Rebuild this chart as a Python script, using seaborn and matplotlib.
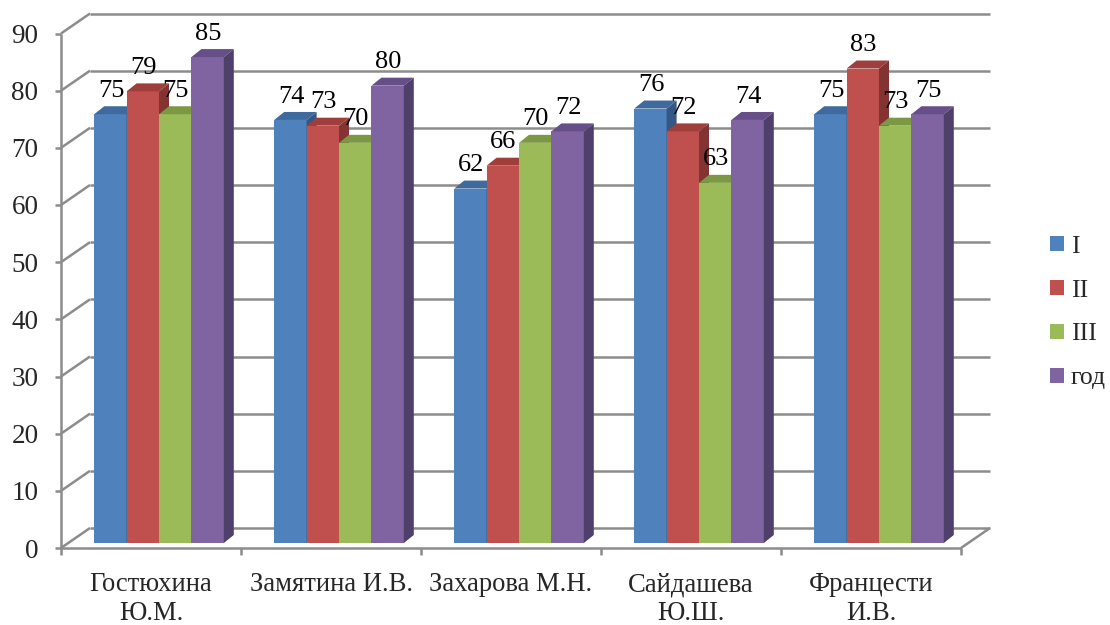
import matplotlib
matplotlib.use("Agg")
import matplotlib.pyplot as plt
import matplotlib.colors as mcolors
import pandas as pd
import seaborn as sns
from matplotlib.lines import Line2D
from matplotlib.patches import Patch, Polygon
from matplotlib.transforms import IdentityTransform, ScaledTranslation

# Data
teachers = ["Гостюхина\nЮ.М.", "Замятина И.В.", "Захарова М.Н.", "Сайдашева\nЮ.Ш.", "Францести\nИ.В."]
periods = ["I", "II", "III", "год"]
period_1 = [75, 74, 62, 76, 75]
period_2 = [79, 73, 66, 72, 83]
period_3 = [75, 70, 70, 63, 73]
year_total = [85, 80, 72, 74, 75]
y_ticks = [0, 10, 20, 30, 40, 50, 60, 70, 80, 90]

front_colors = ["#4F81BD", "#C0504D", "#9BBB59", "#8064A2"]
top_colors = ["#3E6A9E", "#9E3F3C", "#7C9843", "#664F88"]
side_colors = ["#345784", "#833432", "#66803A", "#4F3F6B"]
line_color = "#8c8c8c"

# Fake 3D geometry, in pixels
DEPTH = (10, 8)        # bar depth
FRONT = (-8, -5)       # front edge of floor / axis relative to bar plane
BACK = (21, 15)        # back wall relative to bar plane


def main():
    sns.set_theme(style="white")
    plt.rcParams["font.family"] = ["Liberation Serif", "DejaVu Serif"]

    df = pd.DataFrame({
        "teacher": teachers * 4,
        "period": [p for p in periods for _ in teachers],
        "value": period_1 + period_2 + period_3 + year_total,
    })

    fig = plt.figure(figsize=(11.1, 6.25), dpi=100)
    ax = fig.add_axes([69 / 1110, 82 / 625, 900 / 1110, 514.5 / 625])
    ax.set_facecolor("none")

    sns.barplot(data=df, x="teacher", y="value", hue="period", order=teachers,
                hue_order=periods, palette=front_colors, saturation=1,
                width=0.72, gap=0, errorbar=None, legend=False, ax=ax,
                linewidth=0)

    ax.set_xlim(-0.5, len(teachers) - 0.5)
    ax.set_ylim(0, 90)
    for s in ax.spines.values():
        s.set_visible(False)
    ax.set_xlabel("")
    ax.set_ylabel("")

    # tick labels sit on the front plane, so shift them off the bar plane
    ax.set_yticks(y_ticks)
    ax.set_yticklabels([str(v) for v in y_ticks], fontsize=19.5)
    ax.tick_params(axis="y", length=0, pad=22)
    ax.tick_params(axis="x", length=0, pad=21)
    ax.set_xticks(range(len(teachers)))
    ax.set_xticklabels(teachers, fontsize=19.2, linespacing=1.18)
    shift_y = ScaledTranslation(0, FRONT[1] / 100, fig.dpi_scale_trans)
    shift_x = ScaledTranslation(FRONT[0] / 100, 0, fig.dpi_scale_trans)
    for lab in ax.get_yticklabels():
        lab.set_transform(lab.get_transform() + shift_y)
    for lab in ax.get_xticklabels():
        lab.set_transform(lab.get_transform() + shift_x)

    T = ax.transData
    ident = IdentityTransform()

    def disp(x, y, off=(0, 0)):
        X, Y = T.transform((x, y))
        return X + off[0], Y + off[1]

    def line(p, q, z=0.5):
        ax.add_line(Line2D([p[0], q[0]], [p[1], q[1]], color=line_color, lw=1.8,
                           transform=ident, clip_on=False, zorder=z,
                           solid_capstyle="butt"))

    x_lo, x_hi = ax.get_xlim()

    # back wall gridlines and left wall diagonals
    for v in y_ticks:
        line(disp(x_lo, v, BACK), disp(x_hi, v, BACK))
        line(disp(x_lo, v, FRONT), disp(x_lo, v, BACK))
        a = disp(x_lo, v, FRONT)
        line((a[0] - 6, a[1]), a)
    # front vertical axis
    line(disp(x_lo, 0, FRONT), disp(x_lo, 90, FRONT))
    # floor front edge, right diagonal and category ticks
    line(disp(x_lo, 0, FRONT), disp(x_hi, 0, FRONT))
    line(disp(x_hi, 0, FRONT), disp(x_hi, 0, BACK))
    for i in range(len(teachers) + 1):
        b = disp(x_lo + i, 0, FRONT)
        line(b, (b[0], b[1] - 7))

    # 3D faces for the bars, drawn left to right so neighbours overlap properly
    bars = sorted([p for p in ax.patches if p.get_height() > 0], key=lambda p: p.get_x())
    hex_front = [mcolors.to_hex(c).lower() for c in front_colors]
    for k, p in enumerate(bars):
        idx = hex_front.index(mcolors.to_hex(p.get_facecolor()).lower())
        z = 2 + k * 0.1
        p.set_zorder(z)
        x0, w, h = p.get_x(), p.get_width(), p.get_height()
        X0, Y0 = disp(x0, 0)
        X1, Y1 = disp(x0 + w, h)
        dx, dy = DEPTH
        top = Polygon([(X0, Y1), (X1, Y1), (X1 + dx, Y1 + dy), (X0 + dx, Y1 + dy)],
                      closed=True, facecolor=top_colors[idx], edgecolor="none",
                      transform=ident, clip_on=False, zorder=z + 0.01)
        side = Polygon([(X1, Y0), (X1 + dx, Y0 + dy), (X1 + dx, Y1 + dy), (X1, Y1)],
                       closed=True, facecolor=side_colors[idx], edgecolor="none",
                       transform=ident, clip_on=False, zorder=z + 0.01)
        ax.add_patch(top)
        ax.add_patch(side)
        ax.annotate(f"{h:.0f}", xy=(x0 + w / 2, h), xytext=(0.5, 12.5),
                    textcoords="offset points", ha="center", va="baseline",
                    fontsize=19, color="black", zorder=20, annotation_clip=False)

    handles = [Patch(facecolor=c, edgecolor="none") for c in front_colors]
    fig.legend(handles, periods, loc="center left", bbox_to_anchor=(0.937, 0.5),
               frameon=False, fontsize=18.5, handlelength=0.52, handleheight=0.52,
               handletextpad=0.28, labelspacing=0.85, borderaxespad=0)

    fig.savefig("out.png", dpi=100)
    plt.close(fig)


if __name__ == "__main__":
    main()
